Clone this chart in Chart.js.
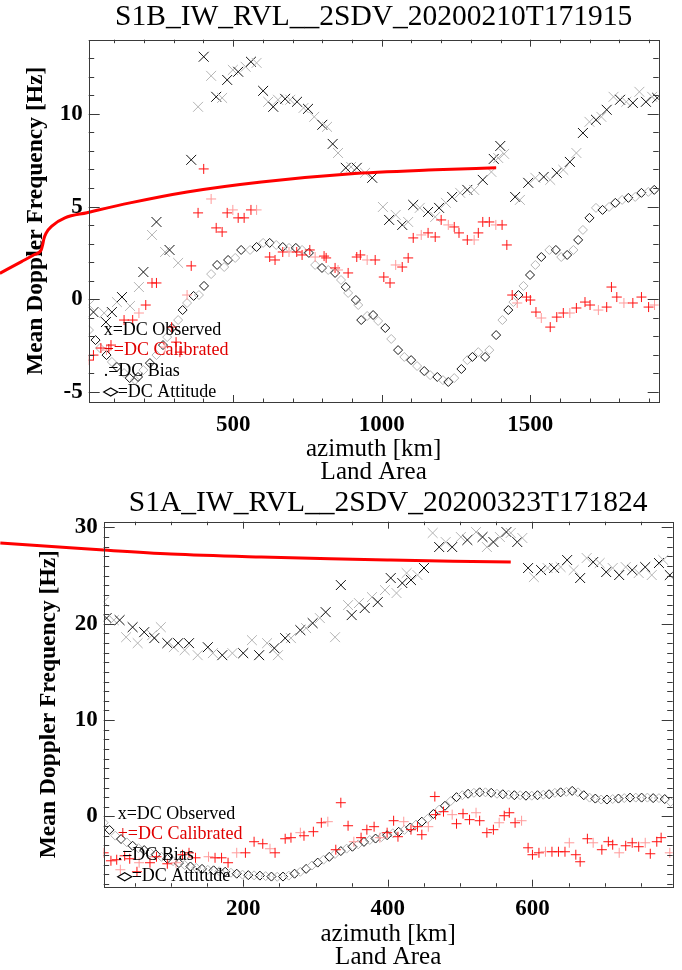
<!DOCTYPE html>
<html><head><meta charset="utf-8">
<script src="https://cdn.jsdelivr.net/npm/chart.js@4/dist/chart.umd.min.js"></script>
<style>html,body{margin:0;padding:0;background:#fff;overflow:hidden}canvas{display:block}</style>
</head><body>
<canvas id="c1" width="682" height="485"></canvas>
<canvas id="c2" width="682" height="485"></canvas>
<script>
// ---------- titles / labels ----------
const topTitle = 'S1B_IW_RVL__2SDV_20200210T171915';
const bottomTitle = 'S1A_IW_RVL__2SDV_20200323T171824';
const yAxisTitle = 'Mean Doppler Frequency [Hz]';
const xAxisTitle = ['azimuth [km]', 'Land Area'];
const legendLabels = ['x=DC Observed', '+=DC Calibrated', '.=DC Bias', '=DC Attitude'];

// ---------- tick labels ----------
const topXTicks = [500, 1000, 1500];
const topYTicks = [-5, 0, 5, 10];
const bottomXTicks = [200, 400, 600];
const bottomYTicks = [0, 10, 20, 30];

// ---------- top panel (S1B) ----------
const topFitX = [-285, -212, -170, -146, -141, -137, -130, -109, -66, 8, 153, 345, 595, 888, 1180, 1385];
const topFitY = [1.40, 2.03, 2.40, 2.66, 2.93, 3.25, 3.55, 3.96, 4.39, 4.67, 5.20, 5.79, 6.33, 6.76, 6.98, 7.09];

const topObsX = [15,30,66,92,109,126,153,72,183,198,227,242,271,286,315,359,382,401,426,443,463,480,499,517,542,560,579,601,618,635,651,675,692,715,737,752,773,800,816,835,853,879,897,916,944,968,1004,1025,1047,1069,1089,1106,1128,1156,1180,1193,1216,1237,1264,1288,1311,1340,1369,1377,1392,1399,1412,1449,1465,1493,1517,1545,1567,1589,1611,1633,1655,1677,1699,1721,1739,1757,1780,1802,1823,1845,1867,1889,1910,1927];
const topObsY = [-0.31,-0.69,-0.74,-0.69,-0.15,0.12,-0.36,-1.23,0.66,1.47,3.47,4.17,2.55,2.66,1.96,7.52,10.38,13.08,12.05,10.92,10.86,11.83,12.37,12.27,12.54,12.81,12.75,11.24,10.65,10.38,10.76,10.81,10.76,10.65,10.32,10.27,9.84,9.41,9.30,8.38,7.89,7.09,7.14,7.09,6.82,6.55,4.98,4.28,4.55,4.01,4.17,5.09,4.93,4.71,4.44,4.93,5.20,5.52,5.74,5.90,5.90,6.44,6.87,7.57,7.62,8.27,7.84,5.52,5.36,6.28,6.55,6.60,6.44,6.82,6.98,7.41,7.89,8.97,9.57,9.68,9.84,10.22,10.92,10.76,10.65,10.59,11.19,10.65,10.92,10.86];

const topCalX = [15,30,55,74,89,133,162,183,206,227,242,271,293,308,321,345,359,382,401,426,443,463,480,499,517,537,560,579,623,641,667,688,714,732,758,776,806,813,843,853,887,916,928,951,978,1007,1028,1047,1069,1089,1106,1133,1156,1180,1200,1224,1244,1260,1288,1311,1325,1340,1362,1384,1405,1421,1439,1456,1487,1500,1519,1537,1567,1589,1611,1633,1655,1684,1701,1729,1757,1773,1791,1815,1845,1874,1898,1918];
const topCalY = [-3.28,-3.01,-2.63,-2.74,-2.47,-1.12,-1.12,-0.74,-0.31,0.88,0.88,-2.58,-1.50,-2.31,-2.85,0.23,1.80,4.66,7.03,5.41,3.85,3.63,4.66,4.82,4.39,4.39,4.82,4.82,2.28,2.12,2.55,2.55,2.55,2.39,2.66,2.28,2.33,2.23,1.69,1.58,1.42,2.28,2.39,2.12,2.12,1.20,0.88,1.85,1.74,2.23,3.31,3.47,3.58,3.36,4.28,4.01,3.90,3.58,3.20,3.20,3.58,4.17,4.17,4.01,4.01,2.93,0.23,-0.20,0.12,-0.04,-0.69,-1.01,-1.50,-0.96,-0.74,-0.74,-0.47,-0.15,-0.31,-0.58,-0.42,0.66,0.12,-0.20,-0.20,0.12,-0.42,-0.31];

const topAttX = [15,37,52,74,92,109,133,152,170,180,198,220,242,264,278,294,315,330,345,367,385,402,426,446,470,483,507,527,557,579,601,623,645,667,688,711,732,755,776,799,820,843,863,879,887,913,921,931,951,971,988,1012,1032,1055,1076,1099,1119,1143,1163,1187,1206,1224,1244,1268,1288,1305,1325,1348,1362,1385,1406,1426,1443,1460,1477,1499,1517,1537,1564,1586,1604,1624,1645,1661,1677,1699,1721,1743,1765,1786,1809,1830,1853,1874,1897,1917];
const topAttY = [-1.66,-2.20,-2.63,-3.01,-3.38,-3.65,-3.98,-4.25,-4.36,-4.19,-3.82,-3.44,-3.01,-2.47,-2.04,-1.55,-1.12,-0.58,-0.20,0.18,0.23,0.72,1.36,1.85,1.74,2.12,2.23,2.66,2.66,2.82,3.04,3.04,2.93,2.82,2.77,2.77,2.66,2.50,1.85,1.69,1.58,1.42,1.04,0.66,0.34,-0.04,-0.31,-1.12,-0.90,-0.85,-1.17,-1.55,-2.14,-2.74,-3.11,-3.28,-3.60,-3.87,-4.09,-4.19,-4.36,-4.46,-4.25,-3.76,-3.28,-3.11,-2.85,-3.11,-2.74,-1.93,-1.12,-0.58,-0.15,0.23,0.72,1.31,1.85,2.28,2.66,2.66,2.28,2.39,2.66,3.20,3.74,4.39,4.93,4.82,4.98,5.20,5.36,5.47,5.52,5.74,5.79,5.90];

// ---------- bottom panel (S1A) ----------
const botFitX = [-136, -60, 7, 100, 225, 320, 404, 490, 570];
const botFitY = [28.39, 28.0, 27.66, 27.25, 26.93, 26.75, 26.62, 26.5, 26.41];

const botObsX = [7,11,21,29,38,47,54,63,74,77,86,95,104,110,119,125,137,151,158,171,185,200,212,222,233,243,248,258,266,279,287,296,306,314,327,335,345,350,360,368,378,386,396,404,412,420,426,432,441,450,462,471,480,489,501,510,522,531,537,546,555,564,570,579,586,594,602,612,621,630,639,648,657,666,675,684,693,702,711,720,729,738,747,756,765,775,781,790];
const botObsY = [22.28,20.59,20.38,20.38,18.61,19.65,17.99,19.13,18.82,18.51,19.65,17.99,17.57,17.99,17.26,17.99,16.74,17.57,16.95,16.74,16.95,16.95,18.30,16.74,17.99,17.47,16.74,18.51,18.51,19.34,19.55,20.07,20.59,21.21,18.61,24.02,21.94,20.90,22.15,21.63,22.77,22.25,23.50,24.75,23.19,24.23,25.27,24.54,25.06,25.79,29.43,27.97,28.49,27.97,29.01,28.70,29.53,29.01,27.97,28.49,29.01,29.53,29.43,28.49,28.91,25.79,24.85,25.58,25.79,25.79,25.89,26.62,25.58,24.75,26.83,26.41,26.31,25.37,25.79,25.06,25.89,25.58,25.27,25.89,25.06,26.31,26.62,25.06];

const botCalX = [7,17,25,30,36,43,53,56,71,80,95,107,116,125,134,152,161,170,179,191,203,215,227,237,244,258,266,279,284,297,308,317,328,335,345,353,363,371,381,389,399,408,414,422,432,441,447,456,465,466,477,489,495,504,513,522,527,537,546,554,561,568,576,585,594,600,609,618,627,636,645,651,660,666,676,684,696,705,711,720,729,738,747,756,763,772,778,790];
const botCalY = [-3.78,-4.61,-4.50,-5.54,-4.09,-4.40,-5.75,-4.81,-4.81,-4.19,-4.92,-4.81,-3.98,-3.78,-4.30,-4.19,-4.30,-4.30,-4.81,-3.78,-3.78,-2.63,-2.84,-3.36,-3.78,-2.32,-2.21,-1.69,-2.01,-1.59,-0.66,-0.55,-3.46,1.42,-0.97,-2.63,-2.21,-1.38,-1.07,-2.21,-1.69,-0.45,-2.11,-0.55,-1.38,-1.07,-1.90,-1.07,2.06,0.18,0.49,0.18,-0.76,0.28,-0.34,0.38,-0.45,-1.69,-1.38,-0.66,0.07,0.38,-0.66,-0.45,-3.26,-3.98,-3.78,-3.67,-3.67,-3.67,-3.67,-2.74,-3.98,-4.71,-2.32,-2.74,-3.46,-2.63,-2.94,-3.78,-3.05,-2.74,-3.15,-2.74,-3.88,-2.63,-2.21,-3.78];

const botAttX = [7,15,23,31,39,47,55,63,71,79,87,95,103,111,119,127,135,143,151,159,167,175,183,191,199,207,215,223,231,239,247,255,263,271,279,287,295,303,311,319,327,335,343,351,359,367,375,383,391,399,407,415,423,431,439,447,455,463,471,479,487,495,503,511,519,527,535,543,551,559,567,575,583,591,599,607,615,623,631,639,647,655,663,671,679,687,695,703,711,719,727,735,743,751,759,767,775,783,791];
const botAttY = [-0.66,-1.4,-2.0,-2.35,-2.7,-3.05,-3.3,-3.5,-3.75,-3.95,-4.2,-4.4,-4.65,-4.85,-5.05,-5.2,-5.35,-5.45,-5.55,-5.6,-5.7,-5.75,-5.85,-5.95,-6.05,-6.1,-6.12,-6.15,-6.2,-6.25,-6.27,-6.25,-6.15,-5.95,-5.75,-5.45,-5.1,-4.8,-4.5,-4.2,-3.9,-3.6,-3.35,-3.15,-2.9,-2.65,-2.45,-2.3,-2.15,-1.95,-1.75,-1.6,-1.4,-1.15,-0.85,-0.55,-0.25,0.25,0.7,1.1,1.6,2.0,2.2,2.35,2.45,2.5,2.5,2.45,2.35,2.3,2.25,2.2,2.2,2.15,2.15,2.2,2.25,2.3,2.45,2.5,2.55,2.65,2.5,2.2,1.95,1.85,1.75,1.75,1.8,1.85,1.9,1.95,1.95,1.95,1.95,1.9,1.9,1.8,1.5];

// ---------- helpers ----------
const pts = (xs, ys) => xs.map((x, i) => ({x, y: ys[i]}));
const SERIF = '"Liberation Serif", "Times New Roman", serif';

const idlFrame = {
  id: 'idlFrame',
  afterDatasetsDraw(chart, args, o) {
    const {ctx, chartArea: a, scales: {x, y}} = chart;
    ctx.save();
    ctx.strokeStyle = '#3a3a3a';
    ctx.lineWidth = 1;
    ctx.strokeRect(Math.round(a.left) + 0.5, Math.round(a.top) + 0.5, Math.round(a.right - a.left), Math.round(a.bottom - a.top));
    ctx.beginPath();
    const i0 = Math.ceil(x.min / o.xMinor), i1 = Math.floor(x.max / o.xMinor);
    for (let i = i0; i <= i1; i++) {
      const v = i * o.xMinor;
      const px = Math.round(x.getPixelForValue(v)) + 0.5;
      const len = o.xMajor.includes(v) ? 7 : 3.5;
      ctx.moveTo(px, a.bottom); ctx.lineTo(px, a.bottom - len);
      ctx.moveTo(px, a.top); ctx.lineTo(px, a.top + len);
    }
    const j0 = Math.ceil(y.min / o.yMinor), j1 = Math.floor(y.max / o.yMinor);
    for (let j = j0; j <= j1; j++) {
      const v = j * o.yMinor;
      const py = Math.round(y.getPixelForValue(v)) + 0.5;
      const len = o.yMajor.includes(v) ? 11 : 5.5;
      ctx.moveTo(a.left, py); ctx.lineTo(a.left + len, py);
      ctx.moveTo(a.right, py); ctx.lineTo(a.right - len, py);
    }
    ctx.stroke();
    ctx.restore();
  }
};

const idlLegend = {
  id: 'idlLegend',
  afterDatasetsDraw(chart, args, o) {
    const {ctx, chartArea: a} = chart;
    ctx.save();
    ctx.font = '18px ' + SERIF;
    ctx.textBaseline = 'middle';
    ctx.textAlign = 'left';
    const x0 = a.left + o.dx;
    const ys = o.rows.map(r => a.bottom + r);
    ctx.fillStyle = '#000'; ctx.fillText(legendLabels[0], x0, ys[0]);
    ctx.fillStyle = '#e00000'; ctx.fillText(legendLabels[1], x0, ys[1]);
    ctx.fillStyle = '#000'; ctx.fillText(legendLabels[2], x0, ys[2]);
    ctx.strokeStyle = '#000'; ctx.lineWidth = 1.2;
    ctx.beginPath();
    ctx.moveTo(x0, ys[3]); ctx.lineTo(x0 + 7, ys[3] - 4); ctx.lineTo(x0 + 14, ys[3]); ctx.lineTo(x0 + 7, ys[3] + 4); ctx.closePath();
    ctx.stroke();
    ctx.fillText(legendLabels[3], x0 + 14, ys[3]);
    ctx.restore();
  }
};

const idlTitle = {
  id: 'idlTitle',
  afterDraw(chart, args, o) {
    const {ctx, chartArea: a} = chart;
    ctx.save();
    ctx.font = '29.5px ' + SERIF;
    ctx.fillStyle = '#000';
    ctx.textAlign = 'center';
    ctx.textBaseline = 'middle';
    ctx.fillText(o.text, (a.left + a.right) / 2, o.y);
    ctx.restore();
  }
};

function makeChart(id, c) {
  const grayBlack = ctx => (ctx.dataIndex % 2 ? '#111' : '#b4b4b4');
  return new Chart(document.getElementById(id), {
    type: 'scatter',
    data: {
      datasets: [
        { type: 'line', label: 'model', data: pts(c.fitX, c.fitY).reverse(), borderColor: '#ff0000', borderWidth: 3,
          pointRadius: 0, cubicInterpolationMode: 'monotone', capBezierPoints: false, clip: false, fill: false },
        { label: 'DC Calibrated', data: pts(c.calX, c.calY), pointStyle: 'cross', pointRadius: 5, pointBorderWidth: 1,
          pointBorderColor: ctx => (ctx.dataIndex % 4 === 3 ? '#ff9a9a' : '#ff1010') },
        { label: 'DC Observed', data: pts(c.obsX, c.obsY), pointStyle: 'crossRot', pointRadius: 7, pointBorderWidth: 1,
          pointBorderColor: grayBlack },
        { label: 'DC Attitude', data: pts(c.attX, c.attY), pointStyle: 'rectRot', pointRadius: 4.5, pointBorderWidth: 1,
          pointBackgroundColor: 'rgba(0,0,0,0)', pointBorderColor: grayBlack }
      ]
    },
    options: {
      responsive: false,
      animation: false,
      events: [],
      layout: { padding: { top: c.padTop, right: c.padRight, bottom: 0, left: 0 } },
      plugins: {
        legend: { display: false },
        tooltip: { enabled: false },
        idlTitle: { text: c.title, y: c.titleY },
        idlLegend: { dx: c.legDx, rows: [-72, -52, -31, -10] },
        idlFrame: { xMinor: c.xMinor, xMajor: c.xTicks, yMinor: 1, yMajor: c.yTicks }
      },
      scales: {
        x: {
          type: 'linear', min: c.xmin, max: c.xmax,
          grid: { display: false, drawTicks: false },
          border: { display: false },
          afterBuildTicks: s => { s.ticks = c.xTicks.map(v => ({ value: v })); },
          afterFit: s => { s.height = c.xHeight; },
          ticks: { autoSkip: false, maxRotation: 0, padding: 9, color: '#000',
                   font: { family: SERIF, size: 23, weight: 'bold' }, callback: v => String(v) },
          title: { display: true, text: xAxisTitle, color: '#000',
                   font: { family: SERIF, size: 25, lineHeight: '23px' }, padding: { top: 0, bottom: 1.5 } }
        },
        y: {
          type: 'linear', min: c.ymin, max: c.ymax,
          grid: { display: false, drawTicks: false },
          border: { display: false },
          afterBuildTicks: s => { s.ticks = c.yTicks.map(v => ({ value: v })); },
          afterFit: s => { s.width = c.yWidth; },
          ticks: { autoSkip: false, padding: 6, color: '#000',
                   font: { family: SERIF, size: 23, weight: 'bold' }, callback: v => String(v) },
          title: { display: true, text: yAxisTitle, color: '#000',
                   font: { family: SERIF, size: 23.5, weight: 'bold', lineHeight: 1 }, padding: { top: c.yTitlePad, bottom: 0 } }
        }
      }
    },
    plugins: [idlFrame, idlLegend, idlTitle]
  });
}

makeChart('c1', {
  title: topTitle, titleY: 17,
  fitX: topFitX, fitY: topFitY, obsX: topObsX, obsY: topObsY, calX: topCalX, calY: topCalY, attX: topAttX, attY: topAttY,
  xmin: 14, xmax: 1932, ymin: -5.54, ymax: 14.0, xMinor: 100, xTicks: topXTicks, yTicks: topYTicks,
  padTop: 39.7, padRight: 23.3, xHeight: 83, yWidth: 88.7, yTitlePad: 24, legDx: 15
});
makeChart('c2', {
  title: bottomTitle, titleY: 18,
  fitX: botFitX, fitY: botFitY, obsX: botObsX, obsY: botObsY, calX: botCalX, calY: botCalY, attX: botAttX, attY: botAttY,
  xmin: 7, xmax: 794, ymin: -7.3, ymax: 30.6, xMinor: 50, xTicks: bottomXTicks, yTicks: bottomYTicks,
  padTop: 36.7, padRight: 9.3, xHeight: 83.3, yWidth: 103.7, yTitlePad: 37, legDx: 14
});
</script>
</body></html>
